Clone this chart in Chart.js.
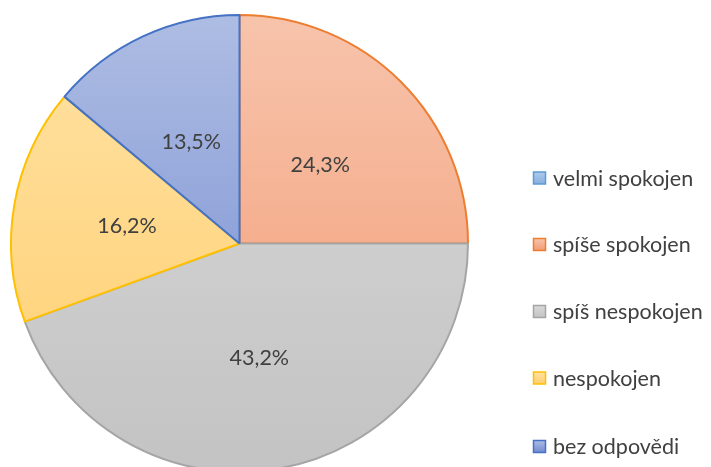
<!DOCTYPE html>
<html>
<head>
<meta charset="utf-8">
<script src="https://cdn.jsdelivr.net/npm/chart.js@4.4.1/dist/chart.umd.min.js"></script>
<style>
  html, body { margin: 0; padding: 0; background: #fff; overflow: hidden; }
  #wrap { position: relative; width: 711px; height: 486px; }
</style>
</head>
<body>
<div id="wrap"><canvas id="pie"></canvas></div>
<script>
// categories and answer counts (pie is drawn from counts, labels show % of all 37 answers)
var categories = ['velmi spokojen', 'spíše spokojen', 'spíš nespokojen', 'nespokojen', 'bez odpovědi'];
var counts = [0, 9, 16, 6, 5];
var pctLabels = ['', '24,3%', '43,2%', '16,2%', '13,5%'];

var borderColors = ['#5B9BD5', '#ED7D31', '#A5A5A5', '#FFC000', '#4472C4'];
var gradTop = ['#AFCBEC', '#F7C4AC', '#D9D9D9', '#FFE2A4', '#AEBDE3'];
var gradBottom = ['#86AEDD', '#F39A72', '#C3C3C3', '#FFCE6E', '#7189D0'];

var FONT = '21.5px Lato, "Open Sans", sans-serif';

function fillFor(ctx, i, y0, y1) {
  var g = ctx.createLinearGradient(0, y0, 0, y1);
  g.addColorStop(0, gradTop[i]);
  g.addColorStop(1, gradBottom[i]);
  return g;
}

var labelPlugin = {
  id: 'pctLabels',
  afterDatasetsDraw: function(chart) {
    var ctx = chart.ctx;
    var meta = chart.getDatasetMeta(0);
    ctx.save();
    ctx.font = FONT;
    ctx.fillStyle = '#404040';
    ctx.textAlign = 'center';
    ctx.textBaseline = 'middle';
    meta.data.forEach(function(arc, i) {
      if (!pctLabels[i]) return;
      var p = arc.getCenterPoint();
      ctx.fillText(pctLabels[i], p.x, p.y + 2);
    });
    ctx.restore();
  }
};

var legendPlugin = {
  id: 'sideLegend',
  afterDraw: function(chart) {
    var ctx = chart.ctx;
    var x = 533.5, ys = [178, 244.5, 311.5, 378, 446.5], s = 12;
    ctx.save();
    ctx.font = FONT;
    ctx.textBaseline = 'middle';
    categories.forEach(function(name, i) {
      var y = ys[i];
      ctx.fillStyle = fillFor(ctx, i, y - s / 2, y + s / 2);
      ctx.fillRect(x, y - s / 2, s, s);
      ctx.strokeStyle = borderColors[i];
      ctx.lineWidth = 1.5;
      ctx.strokeRect(x, y - s / 2, s, s);
      ctx.fillStyle = '#404040';
      ctx.fillText(name, x + 19.5, y + 1);
    });
    ctx.restore();
  }
};

new Chart(document.getElementById('pie'), {
  type: 'pie',
  data: {
    labels: categories,
    datasets: [{
      data: counts,
      backgroundColor: function(c) {
        var area = c.chart.chartArea;
        if (!area) return gradTop[c.dataIndex];
        return fillFor(c.chart.ctx, c.dataIndex, area.top, area.bottom);
      },
      borderColor: borderColors,
      borderWidth: 2
    }]
  },
  options: {
    responsive: true,
    maintainAspectRatio: false,
    animation: false,
    layout: { padding: { left: 10, right: 242, top: 14, bottom: 13 } },
    plugins: {
      legend: { display: false },
      tooltip: { enabled: false }
    }
  },
  plugins: [labelPlugin, legendPlugin]
});
</script>
</body>
</html>
